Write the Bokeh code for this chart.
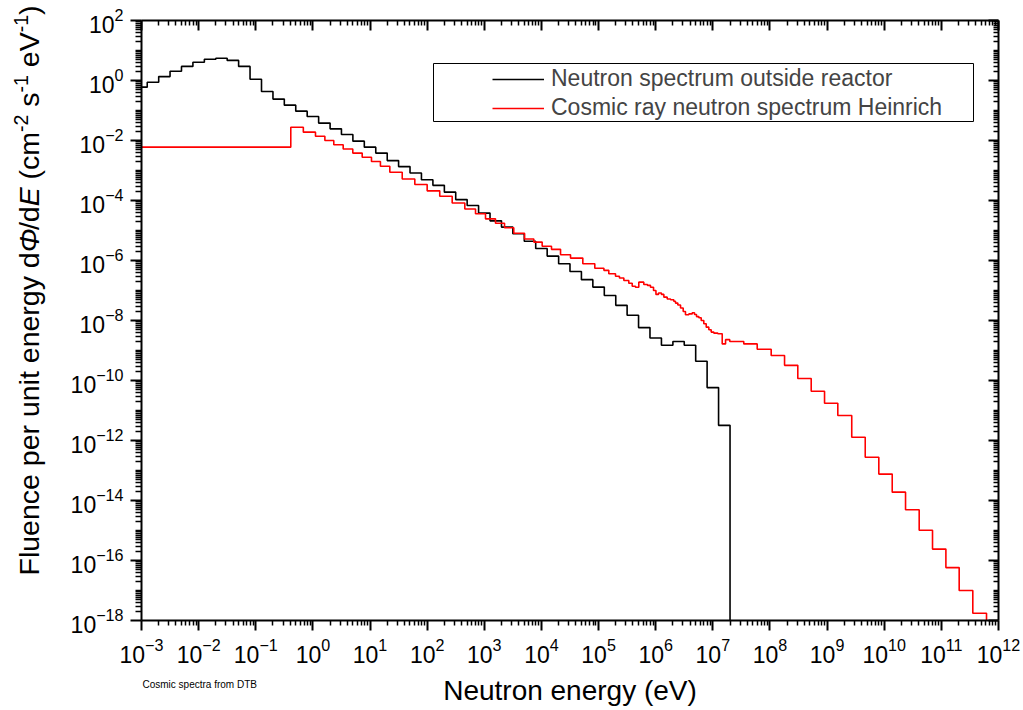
import math
from bokeh.plotting import figure
from bokeh.layouts import row, column
from bokeh.models import (FixedTicker, LogTickFormatter, LogAxis, Label, Legend,
                          LegendItem, BoxAnnotation, Range1d, ColumnDataSource)
from bokeh.embed import file_html
from bokeh.resources import INLINE

# ---------------- data ----------------
# Neutron spectrum outside reactor: bin edges (eV) and fluence per unit energy
reactor_edges = [1.0e-3, 1.26e-3, 2.0e-3, 3.16e-3, 5.01e-3, 7.94e-3,
                 1.26e-2, 2.0e-2, 3.16e-2, 5.01e-2, 7.94e-2,
                 0.126, 0.2, 0.316, 0.501, 0.794,
                 1.26, 2.0, 3.16, 5.01, 7.94,
                 12.6, 20.0, 31.6, 50.1, 79.4,
                 126, 200, 316, 501, 794,
                 1.26e3, 2.0e3, 3.16e3, 5.01e3, 7.94e3,
                 1.26e4, 2.0e4, 3.16e4, 5.01e4, 7.94e4,
                 1.26e5, 2.0e5, 3.16e5, 5.01e5, 7.94e5,
                 1.26e6, 2.0e6, 3.16e6, 5.01e6, 7.94e6,
                 1.26e7, 2.0e7]
reactor_flux = [0.60, 0.87, 1.35, 2.04, 2.95, 4.07, 5.13, 5.50, 4.68, 2.95,
                1.10, 0.43, 0.24, 0.151, 0.095, 0.063, 0.038, 0.0245, 0.0158, 0.0095,
                6.0e-3, 3.8e-3, 2.14e-3, 1.35e-3, 8.3e-4, 4.9e-4, 3.2e-4, 1.9e-4, 1.07e-4, 6.8e-5,
                3.8e-5, 2.1e-5, 1.3e-5, 7.8e-6, 4.4e-6, 2.5e-6, 1.4e-6, 7.8e-7, 4.3e-7, 2.3e-7,
                1.3e-7, 6.8e-8, 3.2e-8, 1.5e-8, 5.8e-9, 2.6e-9, 1.5e-9, 2.0e-9, 1.5e-9, 4.4e-10,
                5.8e-11, 3.2e-12]

# Cosmic ray neutron spectrum (Heinrich): bin edges (eV) and fluence per unit energy
cosmic_edges = [1.0e-3, 0.41, 0.68, 1.11, 1.62, 2.32, 3.39, 4.99, 7.29, 10.6,
                15.2, 22.2, 36.6, 60.8, 100, 166, 274, 456, 702, 1050,
                1570, 2260, 3280, 5060, 7360, 1.03e4, 1.50e4, 2.16e4, 3.23e4, 5.30e4,
                8.59e4, 1.24e5, 1.51e5, 1.98e5, 2.32e5, 2.77e5, 3.38e5, 3.88e5, 4.43e5, 5.06e5,
                6.19e5, 7.19e5, 8.11e5, 9.16e5, 1.01e6, 1.12e6, 1.26e6, 1.39e6, 1.59e6, 1.82e6,
                2.07e6, 2.22e6, 2.44e6, 2.72e6, 3.03e6, 3.32e6, 3.80e6, 4.36e6, 4.78e6, 5.18e6,
                5.69e6, 6.26e6, 6.95e6, 7.66e6, 8.51e6, 9.36e6, 1.04e7, 1.22e7, 1.46e7, 1.67e7,
                1.98e7, 3.48e7, 5.98e7, 1.05e8, 1.80e8, 3.07e8, 5.27e8, 9.02e8, 1.54e9, 2.70e9,
                4.65e9, 8.04e9, 1.38e10, 2.36e10, 4.09e10, 7.00e10, 1.20e11, 2.05e11, 3.55e11, 6.17e11]
cosmic_flux = [6.0e-3, 2.75e-2, 1.9e-2, 1.38e-2, 1.0e-2, 7.2e-3, 5.2e-3, 3.8e-3, 2.75e-3, 2.0e-3,
               1.38e-3, 8.7e-4, 5.2e-4, 3.4e-4, 2.1e-4, 1.38e-4, 8.3e-5, 5.2e-5, 3.6e-5, 2.45e-5,
               1.74e-5, 1.23e-5, 8.1e-6, 5.2e-6, 4.1e-6, 3.0e-6, 2.35e-6, 1.55e-6, 1.2e-6, 7.8e-7,
               5.5e-7, 4.7e-7, 3.6e-7, 3.0e-7, 2.6e-7, 2.15e-7, 1.74e-7, 1.38e-7, 1.29e-7, 1.9e-7,
               1.58e-7, 1.48e-7, 1.29e-7, 1.0e-7, 7.4e-8, 8.3e-8, 7.4e-8, 6.0e-8, 5.2e-8, 4.9e-8,
               4.4e-8, 3.8e-8, 3.3e-8, 2.6e-8, 2.0e-8, 1.55e-8, 1.66e-8, 1.82e-8, 1.58e-8, 1.35e-8,
               1.23e-8, 1.0e-8, 7.8e-9, 6.0e-9, 4.9e-9, 4.1e-9, 3.8e-9, 3.6e-9, 1.66e-9, 2.3e-9,
               2.0e-9, 1.66e-9, 1.1e-9, 6.8e-10, 3.2e-10, 1.17e-10, 4.4e-11, 1.74e-11, 6.8e-12, 1.29e-12,
               2.75e-13, 7.6e-14, 1.9e-14, 4.9e-15, 1.02e-15, 2.4e-16, 5.8e-17, 1.0e-17, 1.74e-18]

ZERO_FLUX = 1e-30  # spectrum ends: drop to zero (below the axis range)

series_labels = ["Neutron spectrum outside reactor", "Cosmic ray neutron spectrum Heinrich"]
series_colors = ["#000000", "#ff0000"]

x_major = [10.0 ** k for k in range(-3, 13)]
x_minor = [m * 10.0 ** k for k in range(-3, 12) for m in range(2, 10)]
y_major = [10.0 ** k for k in range(-18, 3, 2)]
y_minor = [m * 10.0 ** k for k in range(-18, 2) for m in range(1, 10) if not (m == 1 and k % 2 == 0)]

x_title = "Neutron energy (eV)"
footnote = "Cosmic spectra from DTB"

FONT = "Liberation Sans"

LEFT_W = 50      # strip holding the rotated y title
BOTTOM_H = 40    # strip holding the x title and the footnote
TOTAL_W, TOTAL_H = 1023, 710
BASELINE_SHIFT = 0.34  # Bokeh places the alphabetic baseline ~0.34 em past the anchor


def step_source(edges, flux):
    return ColumnDataSource(dict(x=list(edges) + [edges[-1]],
                                 y=list(flux) + [flux[-1], ZERO_FLUX]))


def blank_strip(w, h):
    f = figure(width=w, height=h, x_range=Range1d(0, 1), y_range=Range1d(0, 1),
               output_backend="svg", toolbar_location=None,
               x_axis_location=None, y_axis_location=None,
               min_border_left=0, min_border_right=0, min_border_top=0, min_border_bottom=0)
    f.outline_line_color = None
    f.xgrid.visible = False
    f.ygrid.visible = False
    f.background_fill_color = "white"
    f.border_fill_color = "white"
    return f


p = figure(width=TOTAL_W - LEFT_W, height=TOTAL_H - BOTTOM_H, x_axis_type="log", y_axis_type="log",
           x_range=Range1d(1e-3, 1e12), y_range=Range1d(1e-18, 1e2),
           output_backend="svg", toolbar_location=None,
           min_border_left=141 - LEFT_W, min_border_right=25, min_border_top=20,
           min_border_bottom=TOTAL_H - BOTTOM_H - 620)
p.outline_line_color = None
p.xgrid.visible = False
p.ygrid.visible = False
p.background_fill_color = "white"
p.border_fill_color = "white"

renderers = []
for edges, flux, color in [(reactor_edges, reactor_flux, series_colors[0]),
                           (cosmic_edges, cosmic_flux, series_colors[1])]:
    r = p.step(x="x", y="y", source=step_source(edges, flux), mode="after",
               line_color=color, line_width=1.6)
    renderers.append(r)


def style_axis(ax, ticks, minor, outside, major_len, minor_len, labels=True):
    ax.ticker = FixedTicker(ticks=ticks, minor_ticks=minor)
    ax.formatter = LogTickFormatter()
    ax.axis_line_width = 2
    ax.axis_line_color = "black"
    ax.major_tick_line_width = 2
    ax.minor_tick_line_width = 1.5
    ax.major_tick_line_color = "black"
    ax.minor_tick_line_color = "black"
    if outside:
        ax.major_tick_out, ax.major_tick_in = major_len, 0
        ax.minor_tick_out, ax.minor_tick_in = minor_len, 0
    else:
        ax.major_tick_out, ax.major_tick_in = 0, major_len
        ax.minor_tick_out, ax.minor_tick_in = 0, minor_len
    if labels:
        ax.major_label_text_font = FONT
        ax.major_label_text_font_size = "23px"
        ax.major_label_text_color = "black"
        ax.major_label_standoff = 7
    else:
        ax.major_label_text_font_size = "1px"
        ax.major_label_text_alpha = 0
        ax.major_label_standoff = 0


style_axis(p.xaxis[0], x_major, x_minor, True, 10, 5)
style_axis(p.yaxis[0], y_major, y_minor, True, 11, 6)
top_axis = LogAxis()
right_axis = LogAxis()
style_axis(top_axis, x_major, x_minor, False, 10, 5, labels=False)
style_axis(right_axis, y_major, y_minor, False, 10, 5, labels=False)
p.add_layout(top_axis, "above")
p.add_layout(right_axis, "right")

# legend (items) + its frame
legend = Legend(items=[LegendItem(label=series_labels[i], renderers=[renderers[i]]) for i in range(2)],
                location=(346, 494), padding=5, spacing=2, glyph_width=52, glyph_height=26,
                label_standoff=7, label_text_font=FONT, label_text_font_size="23px",
                border_line_alpha=0, background_fill_alpha=0)
p.add_layout(legend)
p.add_layout(BoxAnnotation(left=292, right=832, bottom=499, top=557,
                           left_units="screen", right_units="screen",
                           bottom_units="screen", top_units="screen",
                           fill_alpha=0, line_color="black", line_width=1, line_alpha=1))

# ---- left strip: y-axis title built from pieces (italic symbols, superscripts)
left = blank_strip(LEFT_W, TOTAL_H)
ADV = {'F': .611, 'l': .222, 'u': .556, 'e': .556, 'n': .556, 'c': .5, ' ': .278, 'p': .556,
       'r': .333, 'i': .222, 't': .278, 'g': .556, 'y': .5, 'd': .556, 'Φ': .78, '/': .278,
       'E': .667, '(': .333, 'm': .833, '-': .333, '2': .556, 's': .5, '1': .556, 'V': .667, ')': .333}
YFS = 28.5
SUPFS = 19.5
pieces = [("Fluence per unit energy d", "normal", False), ("Φ", "italic", False),
          ("/d", "normal", False), ("E", "italic", False), (" (cm", "normal", False),
          ("-2", "normal", True), (" s", "normal", False), ("-1", "normal", True),
          (" eV", "normal", False), ("-1", "normal", True), (")", "normal", False)]
baseline_x = 38.0      # desired baseline position (px from the strip's left edge)
pos = 135.0            # start of the title, px from the bottom of the page
for txt, style, sup in pieces:
    fs = SUPFS if sup else YFS
    # SVG collapses leading blanks: advance over them instead of drawing them
    while txt.startswith(" "):
        pos += ADV[" "] * fs
        txt = txt[1:]
    bx = baseline_x - (11 if sup else 0)
    left.add_layout(Label(x=bx - BASELINE_SHIFT * fs, y=pos, x_units="screen", y_units="screen",
                          angle=math.pi / 2, text=txt, text_font=FONT, text_font_size=f"{fs}px",
                          text_font_style=style, text_align="left", text_baseline="alphabetic",
                          text_color="black"))
    pos += sum(ADV[c] for c in txt) * fs

# ---- bottom strip (its frame is aligned with the main plot frame: left edge at page x=141)
bottom = blank_strip(TOTAL_W - LEFT_W, BOTTOM_H)
bottom.add_layout(Label(x=569.5 - 141, y=(TOTAL_H - 700) + BASELINE_SHIFT * 28,
                        x_units="screen", y_units="screen",
                        text=x_title, text_font=FONT, text_font_size="28px",
                        text_align="center", text_baseline="alphabetic", text_color="black"))
bottom.add_layout(Label(x=142 - 141, y=(TOTAL_H - 687) + BASELINE_SHIFT * 10,
                        x_units="screen", y_units="screen",
                        text=footnote, text_font=FONT, text_font_size="10px",
                        text_align="left", text_baseline="alphabetic", text_color="black"))

layout = row(left, column(p, bottom, spacing=0), spacing=0)
open("out.html", "w").write(file_html(layout, INLINE))
